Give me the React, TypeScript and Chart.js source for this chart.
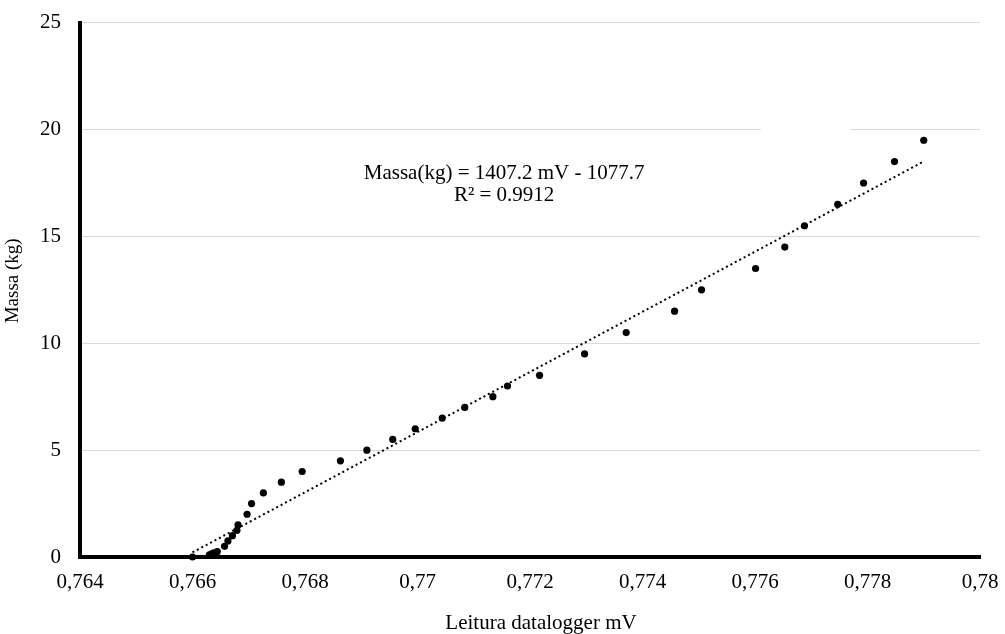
import { useEffect, useRef } from "react";
import { Chart, registerables } from "chart.js";

Chart.register(...registerables);

// Datalogger reading (mV) against the calibration mass (kg)
const leituraMv = [
  0.766, 0.7663, 0.76634, 0.76638, 0.76644, 0.76657, 0.76663, 0.76671, 0.76679,
  0.76681, 0.76697, 0.76705, 0.76726, 0.76758, 0.76795, 0.76863, 0.7691,
  0.76956, 0.76996, 0.77044, 0.77084, 0.77134, 0.7716, 0.77217, 0.77297,
  0.77371, 0.77457, 0.77505, 0.77601, 0.77653, 0.77688, 0.77747, 0.77793,
  0.77848, 0.779,
];
const massaKg = [
  0, 0.1, 0.15, 0.2, 0.25, 0.5, 0.75, 1, 1.25, 1.5, 2, 2.5, 3, 3.5, 4, 4.5, 5,
  5.5, 6, 6.5, 7, 7.5, 8, 8.5, 9.5, 10.5, 11.5, 12.5, 13.5, 14.5, 15.5, 16.5,
  17.5, 18.5, 19.5,
];

const xTickValues = [0.764, 0.766, 0.768, 0.77, 0.772, 0.774, 0.776, 0.778, 0.78];
const xTickLabels = ["0,764", "0,766", "0,768", "0,77", "0,772", "0,774", "0,776", "0,778", "0,78"];
const yTickValues = [0, 5, 10, 15, 20, 25];

// Linear trend line
const trendSlope = 1407.2;
const trendIntercept = -1077.7;
const rSquared = 0.9912;
const equationLines = [
  `Massa(kg) = ${trendSlope} mV - ${-trendIntercept}`,
  `R² = ${rSquared}`,
];

const xTitle = "Leitura datalogger mV";
const yTitle = "Massa (kg)";

const FONT_FAMILY = "'Liberation Serif', 'Times New Roman', serif";
const FONT_SIZE = 21;
const Y_TITLE_SIZE = 19;

const xMinData = Math.min(...leituraMv);
const xMaxData = Math.max(...leituraMv);
const trendPoints = [xMinData, xMaxData].map((x) => ({
  x,
  y: trendSlope * x + trendIntercept,
}));

const overlayPlugin = {
  id: "overlay",
  beforeDatasetsDraw(chart: any) {
    // empty white text box sitting over the top grid line
    const { ctx, scales } = chart;
    const x = scales.x;
    const y = scales.y;
    const l = x.getPixelForValue(0.77611);
    const r = x.getPixelForValue(0.7777);
    const t = y.getPixelForValue(20.4);
    const b = y.getPixelForValue(19.6);
    ctx.save();
    ctx.fillStyle = "#ffffff";
    ctx.fillRect(l, t, r - l, b - t);
    ctx.restore();
  },
  afterDraw(chart: any) {
    const { ctx, chartArea, scales } = chart;
    ctx.save();
    ctx.fillStyle = "#000000";
    ctx.font = `${FONT_SIZE}px ${FONT_FAMILY}`;

    // regression equation
    ctx.textAlign = "center";
    ctx.textBaseline = "alphabetic";
    const ex = scales.x.getPixelForValue(0.77154);
    const ey = scales.y.getPixelForValue(17.69);
    equationLines.forEach((line, i) => ctx.fillText(line, ex, ey + i * 22));

    // axis titles
    ctx.textBaseline = "middle";
    const cx = (chartArea.left + chartArea.right) / 2 + 11;
    ctx.fillText(xTitle, cx, 623);
    ctx.font = `${Y_TITLE_SIZE}px ${FONT_FAMILY}`;
    const cy = (chartArea.top + chartArea.bottom) / 2 - 9;
    ctx.translate(13, cy);
    ctx.rotate(-Math.PI / 2);
    ctx.fillText(yTitle, 0, 0);
    ctx.restore();
  },
};

export default function App() {
  const canvasRef = useRef<HTMLCanvasElement | null>(null);

  useEffect(() => {
    const canvas = canvasRef.current;
    if (!canvas) return;
    const font = { family: FONT_FAMILY, size: FONT_SIZE };
    const chart = new Chart(canvas, {
      type: "scatter",
      data: {
        datasets: [
          {
            label: "Massa",
            data: leituraMv.map((x, i) => ({ x, y: massaKg[i] })),
            backgroundColor: "#000000",
            borderWidth: 0,
            pointRadius: 3.6,
            pointHoverRadius: 3.6,
            clip: false,
            order: 0,
          } as any,
          {
            type: "line",
            label: "Linear",
            data: trendPoints,
            borderColor: "#000000",
            borderWidth: 2,
            borderDash: [2, 3],
            pointRadius: 0,
            fill: false,
            clip: false,
            order: 1,
          } as any,
        ],
      },
      options: {
        responsive: false,
        animation: false,
        events: [],
        layout: { padding: { top: 22.7, right: 25, left: 0, bottom: 0 } },
        plugins: {
          legend: { display: false },
          tooltip: { enabled: false },
        },
        scales: {
          x: {
            type: "linear",
            min: 0.764,
            max: 0.78,
            afterBuildTicks(scale: any) {
              scale.ticks = xTickValues.map((value) => ({ value }));
            },
            afterFit(scale: any) {
              scale.height = 77;
              scale.paddingLeft = 0;
              scale.paddingRight = 0;
            },
            grid: { color: "rgba(0,0,0,0)", drawTicks: false, tickLength: 0 },
            border: { display: true, color: "#000000", width: 4 },
            ticks: {
              color: "#000000",
              font,
              padding: 13,
              maxRotation: 0,
              autoSkip: false,
              callback: (_v: any, i: number) => xTickLabels[i],
            },
          },
          y: {
            type: "linear",
            min: 0,
            max: 25,
            afterBuildTicks(scale: any) {
              scale.ticks = yTickValues.map((value) => ({ value }));
            },
            afterFit(scale: any) {
              scale.width = 80;
              scale.paddingTop = 0;
              scale.paddingBottom = 0;
            },
            grid: { color: "#d9d9d9", lineWidth: 1, drawTicks: false, tickLength: 0 },
            border: { display: true, color: "#000000", width: 4 },
            ticks: {
              color: "#000000",
              font,
              padding: 19,
              callback: (v: any) => String(v),
            },
          },
        },
      },
      plugins: [overlayPlugin],
    });
    return () => chart.destroy();
  }, []);

  return (
    <div style={{ position: "absolute", left: 0, top: 0, width: 1005, height: 634, background: "#ffffff" }}>
      <canvas ref={canvasRef} width={1005} height={634} />
    </div>
  );
}
